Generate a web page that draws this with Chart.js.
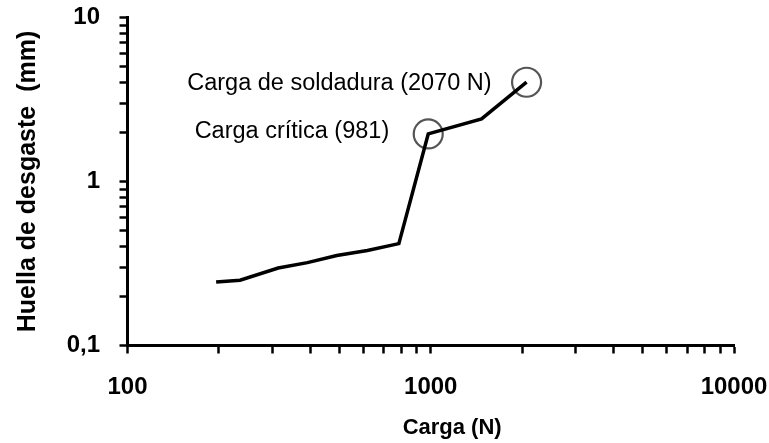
<!DOCTYPE html>
<html>
<head>
<meta charset="utf-8">
<script src="https://cdn.jsdelivr.net/npm/chart.js@4.4.1/dist/chart.umd.min.js"></script>
<style>
  body { margin: 0; background: #fff; }
  canvas { display: block; }
</style>
</head>
<body>
<canvas id="wearChart" width="769" height="443"></canvas>
<script>
// load (N) and wear scar (mm)
var loads = [196, 235, 314, 392, 490, 618, 785, 981, 1471, 2070];
var wear = [0.244, 0.25, 0.297, 0.32, 0.354, 0.38, 0.418, 1.95, 2.41, 4.03];

// circled points
var markLoads = [981, 2070];
var markWear = [1.95, 4.03];
var markLabels = ["Carga crítica (981)", "Carga de soldadura (2070 N)"];

// axis ticks
var xMajor = [100, 1000, 10000];
var xLabels = ["100", "1000", "10000"];
var yMajor = [0.1, 1, 10];
var yLabels = ["0,1", "1", "10"];
var minorSteps = [1, 2, 3, 4, 5, 6, 7, 8, 9];

function logTicks(major) {
    var t = [];
    for (var i = 0; i < major.length - 1; i++) {
        minorSteps.forEach(function (m) {
            t.push({ value: major[i] * m });
        });
    }
    t.push({ value: major[major.length - 1] });
    return t;
}

function majorLabel(value, major, labels) {
    for (var i = 0; i < major.length; i++) {
        if (Math.abs(value / major[i] - 1) < 1e-6) return labels[i];
    }
    return "";
}

// keep chart area fixed, labels may hang over the padding
function noLabelPadding(scale) {
    scale.paddingTop = 0;
    scale.paddingBottom = 0;
    scale.paddingLeft = 0;
    scale.paddingRight = 0;
}

var labelOffsets = [{ dx: -39, dy: 4.5 }, { dx: -35, dy: 8 }];

var markText = {
    id: "markText",
    afterDatasetsDraw: function (chart) {
        var ctx = chart.ctx;
        var xs = chart.scales.x, ys = chart.scales.y;
        ctx.save();
        ctx.font = "23.5px 'Liberation Sans', Arial, sans-serif";
        ctx.fillStyle = "#000";
        ctx.textAlign = "right";
        ctx.textBaseline = "alphabetic";
        markLabels.forEach(function (txt, i) {
            var px = xs.getPixelForValue(markLoads[i]);
            var py = ys.getPixelForValue(markWear[i]);
            ctx.fillText(txt, px + labelOffsets[i].dx, py + labelOffsets[i].dy);
        });
        ctx.restore();
    }
};

var tickFont = { family: "'Liberation Sans', Arial, sans-serif", size: 24, weight: "bold" };

new Chart(document.getElementById("wearChart"), {
    type: "scatter",
    data: {
        datasets: [{
            data: loads.map(function (l, i) { return { x: l, y: wear[i] }; }),
            showLine: true,
            borderColor: "#000",
            borderWidth: 3.5,
            pointRadius: 0,
            tension: 0
        }, {
            data: markLoads.map(function (l, i) { return { x: l, y: markWear[i] }; }),
            showLine: false,
            pointStyle: "circle",
            pointRadius: 14.5,
            pointBorderWidth: 2.2,
            pointBorderColor: "#555",
            pointBackgroundColor: "rgba(0,0,0,0)"
        }]
    },
    options: {
        responsive: false,
        animation: false,
        layout: { padding: { top: 17.5, right: 35, bottom: 0, left: 0 } },
        plugins: {
            legend: { display: false },
            tooltip: { enabled: false }
        },
        scales: {
            x: {
                type: "logarithmic",
                min: 100,
                max: 10000,
                afterBuildTicks: function (scale) { scale.ticks = logTicks(xMajor); },
                afterFit: function (scale) { scale.height = 97.5; noLabelPadding(scale); },
                grid: { drawOnChartArea: false, drawTicks: true, tickLength: 8, tickWidth: 2.5, tickColor: "#000" },
                border: { display: true, color: "#000", width: 3 },
                ticks: {
                    autoSkip: false,
                    maxRotation: 0,
                    padding: 19.5,
                    color: "#000",
                    font: tickFont,
                    callback: function (v) { return majorLabel(v, xMajor, xLabels); }
                },
                title: {
                    display: true,
                    text: "       Carga (N)",
                    color: "#000",
                    padding: { top: 0, bottom: 2 },
                    font: { family: "'Liberation Sans', Arial, sans-serif", size: 22, weight: "bold" }
                }
            },
            y: {
                type: "logarithmic",
                min: 0.1,
                max: 10,
                afterBuildTicks: function (scale) { scale.ticks = logTicks(yMajor); },
                afterFit: function (scale) { scale.width = 127.5; noLabelPadding(scale); },
                grid: { drawOnChartArea: false, drawTicks: true, tickLength: 8, tickWidth: 2.5, tickColor: "#000" },
                border: { display: true, color: "#000", width: 3 },
                ticks: {
                    autoSkip: false,
                    padding: 19.5,
                    color: "#000",
                    font: tickFont,
                    callback: function (v) { return majorLabel(v, yMajor, yLabels); }
                },
                title: {
                    display: true,
                    text: "Huella de desgaste  (mm)",
                    color: "#000",
                    padding: { top: 13, bottom: 0 },
                    font: { family: "'Liberation Sans', Arial, sans-serif", size: 25, weight: "bold" }
                }
            }
        }
    },
    plugins: [markText]
});
</script>
</body>
</html>
